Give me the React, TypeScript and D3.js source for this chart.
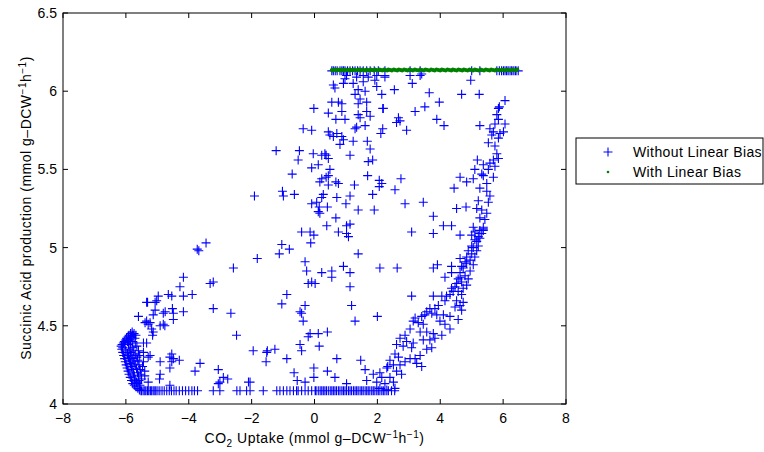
import React from 'react';
import * as d3 from 'd3';

// Axis ticks
const xTicks = [-8, -6, -4, -2, 0, 2, 4, 6, 8];
const yTicks = [4, 4.5, 5, 5.5, 6, 6.5];

// Without Linear Bias: runs clipped at the upper production limit
const topRow: [number, number][] = [
  [0.55, 6.13], [0.6, 6.13], [0.66, 6.13], [0.72, 6.13], [0.81, 6.13], [0.87, 6.13], [0.92, 6.13],
  [0.97, 6.13], [1.05, 6.13], [1.13, 6.13], [1.21, 6.13], [1.29, 6.13], [1.37, 6.13], [1.45, 6.13],
  [1.55, 6.13], [1.66, 6.13], [1.77, 6.13], [1.9, 6.13], [2.03, 6.13], [2.24, 6.13], [3.04, 6.13],
  [3.36, 6.13], [5.0, 6.13], [5.26, 6.13], [5.8, 6.13], [5.88, 6.13], [5.95, 6.13], [6.01, 6.13],
  [6.06, 6.13], [6.11, 6.13], [6.16, 6.13], [6.22, 6.13], [6.27, 6.13], [6.32, 6.13], [6.38, 6.13],
  [6.41, 6.13], [6.48, 6.13],
];

// Without Linear Bias: runs clipped at the lower production limit
const bottomRow: [number, number][] = [
  [-5.5, 4.085], [-5.45, 4.085], [-5.4, 4.085], [-5.36, 4.085], [-5.31, 4.085], [-5.27, 4.085],
  [-5.22, 4.085], [-5.18, 4.085], [-5.13, 4.085], [-5.08, 4.085], [-5.04, 4.085], [-4.98, 4.085],
  [-4.92, 4.085], [-4.85, 4.085], [-4.78, 4.085], [-4.7, 4.085], [-4.62, 4.085], [-4.55, 4.085],
  [-4.47, 4.085], [-4.4, 4.085], [-4.3, 4.085], [-4.2, 4.085], [-4.1, 4.085], [-4.0, 4.085],
  [-3.9, 4.085], [-3.82, 4.085], [-3.72, 4.085], [-3.22, 4.085], [-3.01, 4.085], [-2.47, 4.085],
  [-2.37, 4.085], [-2.16, 4.085], [-2.05, 4.085], [-1.63, 4.085], [-1.2, 4.085], [-1.1, 4.085],
  [-0.99, 4.085], [-0.88, 4.085], [-0.78, 4.085], [-0.67, 4.085], [-0.57, 4.085], [-0.52, 4.085],
  [-0.41, 4.085], [-0.3, 4.085], [-0.2, 4.085], [-0.09, 4.085], [0.02, 4.085], [0.05, 4.085],
  [0.12, 4.085], [0.18, 4.085], [0.23, 4.085], [0.28, 4.085], [0.33, 4.085], [0.38, 4.085],
  [0.44, 4.085], [0.5, 4.085], [0.55, 4.085], [0.6, 4.085], [0.65, 4.085], [0.7, 4.085],
  [0.76, 4.085], [0.81, 4.085], [0.87, 4.085], [0.92, 4.085], [0.97, 4.085], [1.02, 4.085],
  [1.08, 4.085], [1.13, 4.085], [1.18, 4.085], [1.24, 4.085], [1.29, 4.085], [1.34, 4.085],
  [1.39, 4.085], [1.45, 4.085], [1.5, 4.085], [1.55, 4.085], [1.61, 4.085], [1.66, 4.085],
  [1.71, 4.085], [1.76, 4.085], [1.82, 4.085], [1.87, 4.085], [1.92, 4.085], [1.98, 4.085],
  [2.03, 4.085], [2.08, 4.085], [2.14, 4.085], [2.19, 4.085], [2.24, 4.085], [2.3, 4.085],
  [2.35, 4.085], [2.45, 4.085], [2.55, 4.085],
];

// Without Linear Bias: the wedge near the most negative CO2 uptake
const wedge: [number, number][] = [
  [-6.15, 4.37], [-6.12, 4.38], [-6.1, 4.36], [-6.08, 4.39], [-6.05, 4.4], [-6.03, 4.38], [-6.0, 4.41],
  [-5.98, 4.42], [-5.95, 4.4], [-5.93, 4.43], [-5.9, 4.44], [-5.88, 4.41], [-5.85, 4.45], [-5.82, 4.43],
  [-5.8, 4.46], [-5.77, 4.44], [-5.74, 4.45], [-5.71, 4.42], [-5.68, 4.44], [-5.78, 4.4], [-5.85, 4.39],
  [-5.92, 4.38], [-5.7, 4.39], [-6.13, 4.35], [-6.1, 4.33], [-6.07, 4.31], [-6.04, 4.29], [-6.02, 4.27],
  [-5.99, 4.25], [-5.96, 4.23], [-5.93, 4.21], [-5.9, 4.19], [-5.86, 4.17], [-5.82, 4.15], [-5.78, 4.13],
  [-5.73, 4.12], [-5.68, 4.11], [-5.62, 4.1], [-5.57, 4.09], [-5.52, 4.085], [-6.0, 4.34], [-5.95, 4.32],
  [-5.92, 4.3], [-5.88, 4.28], [-5.85, 4.26], [-5.82, 4.24], [-5.8, 4.22], [-5.76, 4.2], [-5.73, 4.18],
  [-5.7, 4.16], [-5.66, 4.14], [-5.62, 4.13], [-5.9, 4.35], [-5.86, 4.33], [-5.83, 4.31], [-5.78, 4.29],
  [-5.74, 4.27], [-5.7, 4.25], [-5.66, 4.23], [-5.63, 4.2], [-5.6, 4.18], [-5.58, 4.15], [-5.55, 4.12],
  [-5.8, 4.36], [-5.75, 4.34], [-5.7, 4.32], [-5.65, 4.3], [-5.62, 4.28], [-5.58, 4.25], [-5.55, 4.22],
  [-5.52, 4.19], [-5.5, 4.16], [-5.65, 4.37], [-5.6, 4.34], [-5.56, 4.31],
];

// Without Linear Bias: scattered runs on the left half
const leftScatter: [number, number][] = [
  [-3.45, 5.03], [-3.73, 4.99], [-3.68, 4.98], [-2.58, 4.87], [-4.17, 4.81], [-4.28, 4.75],
  [-3.32, 4.77], [-3.22, 4.78], [-3.89, 4.7], [-4.65, 4.7], [-4.54, 4.69], [-4.97, 4.69],
  [-4.17, 4.69], [-5.31, 4.65], [-5.07, 4.65], [-5.02, 4.66], [-5.34, 4.65], [-4.52, 4.61],
  [-4.75, 4.59], [-4.17, 4.59], [-3.22, 4.61], [-2.66, 4.58], [-5.6, 4.56], [-5.13, 4.57],
  [-4.49, 4.54], [-5.34, 4.53], [-5.23, 4.52], [-5.29, 4.51], [-4.81, 4.51], [-4.76, 4.5],
  [-4.91, 4.5], [-5.18, 4.48], [-5.15, 4.44], [-5.13, 4.46], [-5.39, 4.52], [-2.48, 4.44],
  [-5.07, 4.6], [-4.81, 4.58], [-4.49, 4.58], [-5.44, 4.39], [-5.34, 4.39], [-5.23, 4.31],
  [-5.29, 4.3], [-5.44, 4.33], [-4.91, 4.27], [-4.54, 4.32], [-4.6, 4.3], [-4.49, 4.29],
  [-4.3, 4.28], [-4.54, 4.27], [-4.6, 4.23], [-3.64, 4.26], [-3.8, 4.21], [-3.06, 4.22],
  [-2.9, 4.17], [-2.76, 4.16], [-3.01, 4.14], [-3.06, 4.13], [-5.44, 4.27], [-5.47, 4.24],
  [-5.4, 4.21], [-5.4, 4.18], [-4.91, 4.19], [-4.93, 4.16], [-5.29, 4.14], [-4.6, 4.12],
  [-2.1, 4.14], [-1.91, 5.33], [-1.22, 5.62], [-1.82, 4.93], [-2.05, 4.14],
];

// Without Linear Bias: scattered runs in the middle
const midScatter: [number, number][] = [
  [1.02, 6.1], [0.97, 6.08], [1.34, 6.09], [1.55, 6.1], [1.71, 6.09], [1.98, 6.1], [2.24, 6.09],
  [0.92, 6.05], [1.23, 6.05], [1.55, 6.06], [1.92, 6.07], [0.6, 6.04], [0.65, 6.02], [1.39, 6.01],
  [1.61, 6.0], [1.98, 6.03], [1.29, 5.98], [2.14, 5.98], [1.45, 5.95], [1.66, 5.93], [1.39, 5.92],
  [0.55, 5.93], [0.76, 5.93], [0.87, 5.92], [-0.02, 5.89], [0.44, 5.86], [0.87, 5.87], [1.66, 5.87],
  [1.77, 5.84], [1.39, 5.85], [1.45, 5.83], [2.17, 5.89], [0.68, 5.82], [0.97, 5.82], [-0.36, 5.76],
  [-0.09, 5.75], [0.44, 5.74], [0.49, 5.72], [0.71, 5.73], [0.6, 5.71], [0.87, 5.71], [0.92, 5.69],
  [0.81, 5.66], [1.29, 5.76], [1.61, 5.78], [1.34, 5.77], [2.17, 5.76], [2.11, 5.73], [1.23, 5.68],
  [1.68, 5.68], [1.77, 5.63], [-0.48, 5.62], [-0.52, 5.56], [-0.04, 5.6], [0.23, 5.59], [0.37, 5.59],
  [0.44, 5.57], [0.33, 5.6], [1.13, 5.59], [1.71, 5.55], [1.85, 5.56], [-0.09, 5.51], [0.12, 5.53],
  [-0.71, 5.47], [0.23, 5.44], [0.37, 5.45], [0.44, 5.46], [0.49, 5.5], [0.17, 5.42], [0.44, 5.4],
  [0.68, 5.42], [0.76, 5.41], [1.27, 5.4], [1.69, 5.46], [2.06, 5.43], [2.06, 5.39], [-1.02, 5.36],
  [-0.99, 5.33], [-0.64, 5.34], [0.28, 5.34], [0.23, 5.32], [0.71, 5.32], [1.13, 5.33], [1.0, 5.28],
  [1.85, 5.34], [-0.09, 5.28], [0.07, 5.29], [0.15, 5.26], [0.12, 5.23], [0.17, 5.22], [0.41, 5.26],
  [1.39, 5.24], [1.9, 5.24], [0.68, 5.19], [0.39, 5.14], [1.02, 5.14], [1.13, 5.15], [0.76, 5.1],
  [1.02, 5.09], [1.08, 5.07], [-0.41, 5.1], [-0.14, 5.1], [-0.02, 5.08], [-0.12, 5.03], [-1.04, 5.02],
  [-1.12, 4.96], [-0.8, 4.99], [1.39, 4.96], [-0.3, 4.91], [-0.25, 4.85], [0.23, 4.84], [0.55, 4.85],
  [0.55, 4.81], [0.92, 4.88], [1.13, 4.84], [2.08, 4.87], [-0.2, 4.77], [-0.09, 4.78], [0.02, 4.77],
  [1.13, 4.75], [-0.88, 4.7], [-1.04, 4.64], [-0.46, 4.59], [-0.3, 4.63], [-0.41, 4.58], [-0.36, 4.53],
  [1.18, 4.63], [1.29, 4.53], [2.0, 4.56], [-0.14, 4.45], [0.12, 4.45], [0.41, 4.46], [-0.2, 4.43],
  [-0.46, 4.38], [0.15, 4.37], [-0.41, 4.34], [-1.95, 4.34], [-1.5, 4.34], [-1.26, 4.35], [-1.54, 4.27],
  [-1.52, 4.33], [-0.88, 4.29], [0.71, 4.29], [1.47, 4.28], [-0.02, 4.23], [-0.02, 4.17], [0.41, 4.21],
  [-0.65, 4.2], [-0.55, 4.15], [-0.3, 4.14], [0.65, 4.17], [1.02, 4.13], [1.61, 4.22], [1.87, 4.19],
  [1.66, 4.15], [1.98, 4.14], [2.08, 4.2], [2.33, 4.24],
];

// Without Linear Bias: scattered runs on the right half
const rightScatter: [number, number][] = [
  [2.24, 6.1], [3.04, 6.1], [3.36, 6.1], [3.41, 6.11], [3.11, 6.05], [4.97, 6.07], [2.54, 6.01],
  [3.65, 5.99], [4.68, 5.98], [5.24, 5.98], [2.14, 5.98], [3.97, 5.93], [3.51, 5.9], [3.2, 5.87],
  [2.19, 5.89], [2.67, 5.83], [2.61, 5.8], [2.72, 5.81], [3.89, 5.82], [4.12, 5.78], [2.93, 5.75],
  [5.26, 5.78], [6.06, 5.94], [5.88, 5.9], [5.85, 5.89], [4.63, 5.45], [4.84, 5.42], [4.44, 5.38],
  [4.52, 5.25], [4.82, 5.26], [4.1, 5.14], [4.36, 5.14], [4.63, 5.08], [3.78, 5.09], [3.09, 5.1],
  [2.88, 5.28], [3.46, 5.29], [3.78, 5.2], [2.75, 5.44], [2.56, 5.37], [2.14, 5.41], [2.63, 4.87],
  [3.78, 4.87], [3.91, 4.89], [4.36, 4.88], [4.63, 4.93], [3.09, 4.69], [4.15, 4.81], [4.36, 4.84],
];

// Without Linear Bias: the dense rising band on the right
const curveBand: [number, number][] = [
  [5.8, 5.85], [5.85, 5.82], [5.74, 5.79], [6.06, 5.79], [5.58, 5.76], [5.69, 5.74], [5.64, 5.72],
  [5.9, 5.73], [6.01, 5.74], [5.85, 5.7], [5.53, 5.67], [5.74, 5.65], [5.8, 5.6], [5.69, 5.56],
  [5.85, 5.57], [5.18, 5.56], [5.37, 5.53], [5.58, 5.54], [5.74, 5.52], [5.1, 5.5], [5.32, 5.47],
  [5.37, 5.46], [5.53, 5.5], [5.69, 5.45], [5.05, 5.44], [5.48, 5.41], [5.26, 5.38], [5.48, 5.36],
  [5.58, 5.33], [5.21, 5.3], [5.53, 5.29], [5.16, 5.25], [5.32, 5.24], [5.48, 5.22], [5.26, 5.19],
  [5.42, 5.18], [5.37, 5.13], [5.37, 5.11], [5.05, 5.13], [5.0, 5.08], [5.1, 5.1], [5.26, 5.09],
  [5.37, 5.12], [5.32, 5.09], [5.26, 5.06], [5.16, 5.04], [5.21, 5.01], [5.05, 5.0], [5.0, 4.96],
  [5.1, 4.94], [4.95, 4.92], [4.84, 4.9], [5.05, 4.89], [4.73, 4.87], [4.95, 4.85], [4.79, 4.82],
  [4.63, 4.81], [4.89, 4.8], [4.68, 4.78], [4.52, 4.77], [4.84, 4.76], [4.73, 4.74], [4.57, 4.72],
  [4.41, 4.72], [4.68, 4.7], [4.31, 4.7], [4.2, 4.69], [4.52, 4.66], [4.73, 4.65], [4.63, 4.63],
  [4.47, 4.62], [4.68, 4.6], [4.05, 4.69], [3.78, 4.69], [4.15, 4.66], [3.94, 4.63], [3.83, 4.61],
  [3.67, 4.61], [3.57, 4.59], [3.73, 4.58], [3.51, 4.57], [3.41, 4.56], [3.89, 4.57], [4.1, 4.57],
  [4.31, 4.56], [4.57, 4.54], [3.2, 4.55], [3.14, 4.53], [3.3, 4.52], [3.46, 4.51], [3.99, 4.53],
  [4.15, 4.51], [4.31, 4.48], [3.04, 4.48], [3.36, 4.46], [3.57, 4.46], [3.78, 4.45], [4.05, 4.44],
  [2.88, 4.44], [2.72, 4.42], [2.93, 4.4], [3.14, 4.39], [3.46, 4.41], [3.67, 4.41], [3.83, 4.42],
  [2.61, 4.38], [2.82, 4.37], [3.09, 4.36], [3.57, 4.35], [3.73, 4.36], [3.36, 4.31], [3.2, 4.29],
  [2.56, 4.32], [2.67, 4.3], [2.4, 4.28], [2.51, 4.25], [2.72, 4.25], [2.88, 4.27], [3.04, 4.29],
  [3.25, 4.26], [3.41, 4.24], [2.61, 4.21], [2.77, 4.19], [2.3, 4.23], [2.4, 4.17], [2.24, 4.13],
  [2.51, 4.14], [2.08, 4.1], [2.3, 4.09], [2.56, 4.1], [2.14, 4.17], [5.26, 5.11], [5.21, 5.07],
  [5.1, 5.05], [5.0, 5.01], [5.16, 4.98], [4.89, 4.98], [4.84, 4.94], [4.79, 4.91], [4.68, 4.88],
  [4.63, 4.84], [4.57, 4.8], [4.47, 4.75], [4.36, 4.74],
];

// With Linear Bias: every run sits on the upper production limit
const withBias: [number, number][] = [
  [0.55, 6.135], [0.58, 6.132], [0.63, 6.138], [0.67, 6.135], [0.71, 6.132], [0.74, 6.138],
  [0.79, 6.135], [0.83, 6.132], [0.86, 6.138], [0.91, 6.135], [0.95, 6.132], [0.99, 6.138],
  [1.04, 6.135], [1.08, 6.132], [1.12, 6.138], [1.17, 6.135], [1.21, 6.132], [1.25, 6.138],
  [1.3, 6.135], [1.34, 6.132], [1.39, 6.138], [1.43, 6.135], [1.47, 6.132], [1.52, 6.138],
  [1.57, 6.135], [1.61, 6.132], [1.66, 6.138], [1.7, 6.135], [1.75, 6.132], [1.79, 6.138],
  [1.84, 6.135], [1.88, 6.132], [1.93, 6.138], [1.97, 6.135], [2.02, 6.132], [2.07, 6.138],
  [2.11, 6.135], [2.16, 6.132], [2.21, 6.138], [2.26, 6.135], [2.31, 6.132], [2.35, 6.138],
  [2.41, 6.135], [2.46, 6.132], [2.52, 6.138], [2.57, 6.135], [2.63, 6.132], [2.68, 6.138],
  [2.74, 6.135], [2.79, 6.132], [2.85, 6.138], [2.91, 6.135], [2.96, 6.132], [3.02, 6.138],
  [3.08, 6.135], [3.13, 6.132], [3.19, 6.138], [3.25, 6.135], [3.31, 6.132], [3.36, 6.138],
  [3.42, 6.135], [3.48, 6.132], [3.53, 6.138], [3.59, 6.135], [3.65, 6.132], [3.71, 6.138],
  [3.77, 6.135], [3.82, 6.132], [3.88, 6.138], [3.94, 6.135], [4.0, 6.132], [4.05, 6.138],
  [4.11, 6.135], [4.17, 6.132], [4.23, 6.138], [4.29, 6.135], [4.35, 6.132], [4.4, 6.138],
  [4.46, 6.135], [4.52, 6.132], [4.58, 6.138], [4.64, 6.135], [4.7, 6.132], [4.75, 6.138],
  [4.81, 6.135], [4.87, 6.132], [4.93, 6.138], [4.99, 6.135], [5.04, 6.132], [5.1, 6.138],
  [5.16, 6.135], [5.22, 6.132], [5.28, 6.138], [5.33, 6.135], [5.39, 6.132], [5.45, 6.138],
  [5.51, 6.135], [5.57, 6.132], [5.62, 6.138], [5.68, 6.135], [5.74, 6.132], [5.79, 6.138],
  [5.85, 6.135], [5.9, 6.132], [5.96, 6.138], [6.01, 6.135], [6.07, 6.132], [6.12, 6.138],
  [6.18, 6.135], [6.23, 6.132], [6.29, 6.138], [6.34, 6.135], [6.4, 6.132], [6.45, 6.138],
];

const withoutBias = [
  ...topRow, ...bottomRow, ...wedge, ...leftScatter, ...midScatter, ...rightScatter, ...curveBand,
];

const W = 764;
const H = 452;
const plot = { left: 63, right: 566, top: 13, bottom: 404 };
const FONT = "'Liberation Sans', Arial, Helvetica, sans-serif";
const BLUE = '#0000ff';
const GREEN = '#008000';
const ARM = 4.5;
const TICK = 5;
const FS = 14;

const crossPath = (cx: number, cy: number) =>
  `M${cx - ARM},${cy}H${cx + ARM}M${cx},${cy - ARM}V${cy + ARM}`;

const fmt = (v: number) => String(v).replace('-', '\u2212');

export default function App() {
  const x = d3.scaleLinear().domain([-8, 8]).range([plot.left, plot.right]);
  const y = d3.scaleLinear().domain([4, 6.5]).range([plot.bottom, plot.top]);

  const crosses = withoutBias.map(([a, b]) => crossPath(x(a), y(b))).join('');

  return (
    <svg
      width={W}
      height={H}
      style={{ position: 'absolute', left: 0, top: 0, background: '#fff' }}
      fontFamily={FONT}
    >
      <rect x={0} y={0} width={W} height={H} fill="#fff" />

      {/* markers */}
      <path d={crosses} stroke={BLUE} strokeWidth={1.1} fill="none" />
      {withBias.map(([a, b], i) => (
        <circle key={i} cx={x(a)} cy={y(b)} r={2} fill={GREEN} />
      ))}

      {/* axes box */}
      <rect
        x={plot.left}
        y={plot.top}
        width={plot.right - plot.left}
        height={plot.bottom - plot.top}
        fill="none"
        stroke="#000"
        strokeWidth={1}
      />

      {/* x ticks on bottom and top */}
      {xTicks.map((t) => (
        <g key={'x' + t}>
          <line x1={x(t)} x2={x(t)} y1={plot.bottom} y2={plot.bottom - TICK} stroke="#000" />
          <line x1={x(t)} x2={x(t)} y1={plot.top} y2={plot.top + TICK} stroke="#000" />
          <text x={x(t)} y={422.5} fontSize={FS} textAnchor="middle" fill="#000">
            {fmt(t)}
          </text>
        </g>
      ))}

      {/* y ticks on left and right */}
      {yTicks.map((t) => (
        <g key={'y' + t}>
          <line x1={plot.left} x2={plot.left + TICK} y1={y(t)} y2={y(t)} stroke="#000" />
          <line x1={plot.right} x2={plot.right - TICK} y1={y(t)} y2={y(t)} stroke="#000" />
          <text x={57} y={y(t) + 5} fontSize={FS} textAnchor="end" fill="#000">
            {fmt(t)}
          </text>
        </g>
      ))}

      {/* x axis label */}
      <text x={314.5} y={443} fontSize={FS} letterSpacing={0.5} textAnchor="middle" fill="#000">
        CO<tspan dy={4} fontSize={10}>2</tspan>
        <tspan dy={-4}> Uptake (mmol g–DCW</tspan>
        <tspan dy={-5} fontSize={10}>−1</tspan>
        <tspan dy={5}>h</tspan>
        <tspan dy={-5} fontSize={10}>−1</tspan>
        <tspan dy={5}>)</tspan>
      </text>

      {/* y axis label */}
      <text
        transform="translate(31,208) rotate(-90)"
        fontSize={FS}
        letterSpacing={0.5}
        textAnchor="middle"
        fill="#000"
      >
        Succinic Acid production (mmol g–DCW
        <tspan dy={-5} fontSize={10}>−1</tspan>
        <tspan dy={5}>h</tspan>
        <tspan dy={-5} fontSize={10}>−1</tspan>
        <tspan dy={5}>)</tspan>
      </text>

      {/* legend */}
      <rect x={576} y={138} width={187} height={46} fill="#fff" stroke="#000" strokeWidth={1} />
      <path d={crossPath(608, 152)} stroke={BLUE} strokeWidth={1.1} />
      <text x={633} y={156.5} fontSize={FS} letterSpacing={0.4} fill="#000">
        Without Linear Bias
      </text>
      <circle cx={608} cy={172} r={1.3} fill={GREEN} />
      <text x={633} y={176.5} fontSize={FS} letterSpacing={0.4} fill="#000">
        With Linear Bias
      </text>
    </svg>
  );
}
